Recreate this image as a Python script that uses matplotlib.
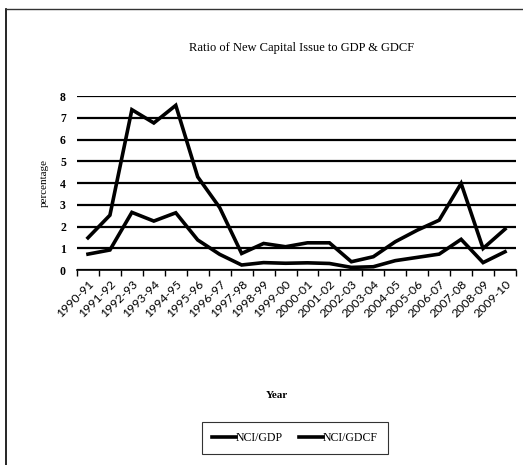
import matplotlib
matplotlib.use("Agg")
import matplotlib.pyplot as plt
from matplotlib.lines import Line2D
import numpy as np

years = ["1990-91", "1991-92", "1992-93", "1993-94", "1994-95", "1995-96", "1996-97",
         "1997-98", "1998-99", "1999-00", "2000-01", "2001-02", "2002-03", "2003-04",
         "2004-05", "2005-06", "2006-07", "2007-08", "2008-09", "2009-10"]
nci_gdp = [0.73, 0.92, 2.65, 2.25, 2.63, 1.38, 0.72, 0.23, 0.34, 0.31, 0.33, 0.30,
           0.12, 0.15, 0.43, 0.58, 0.73, 1.41, 0.34, 0.84]
nci_gdcf = [1.48, 2.52, 7.37, 6.76, 7.57, 4.28, 2.87, 0.76, 1.22, 1.07, 1.25, 1.25,
            0.38, 0.61, 1.30, 1.83, 2.29, 3.98, 0.99, 1.88]
yticks = [0, 1, 2, 3, 4, 5, 6, 7, 8]

W, H = 523, 465
fig = plt.figure(figsize=(W / 100, H / 100), dpi=100)
serif = "Liberation Serif"

# outer frame (left and top edges only visible)
fig.add_artist(Line2D([6 / W, 6 / W], [0, 1 - 9 / H], transform=fig.transFigure,
                      color="black", linewidth=1.2))
fig.add_artist(Line2D([6 / W, 1], [1 - 9 / H, 1 - 9 / H], transform=fig.transFigure,
                      color="#333333", linewidth=1.0))

ax = fig.add_axes([77 / W, 1 - 270 / H, (516 - 77) / W, (270 - 96) / H])
x = np.arange(len(years))
ax.plot(x, nci_gdp, color="black", linewidth=2.6, solid_joinstyle="miter", label="NCI/GDP")
ax.plot(x, nci_gdcf, color="black", linewidth=2.6, solid_joinstyle="miter", label="NCI/GDCF")

ax.set_xlim(-0.5, len(years) - 0.5)
ax.set_ylim(0, 8)
ax.set_yticks(yticks)
ax.set_yticklabels([str(v) for v in yticks], fontfamily=serif, fontsize=8.5, fontweight="bold")
ax.yaxis.grid(True, color="black", linewidth=1.6)
ax.set_axisbelow(True)
ax.tick_params(axis="y", length=0, pad=8)

ax.set_xticks(x)
ax.set_xticklabels(years, rotation=45, ha="right", rotation_mode="anchor",
                   fontfamily="Lato", fontsize=8.8)
ax.set_xticks(np.arange(-0.5, len(years), 1), minor=True)
ax.tick_params(axis="x", which="major", length=0, pad=6)
ax.tick_params(axis="x", which="minor", length=4, width=1, color="black", direction="out")

for s in ["top", "right", "left"]:
    ax.spines[s].set_visible(False)
ax.spines["bottom"].set_linewidth(1.2)

ax.set_ylabel("percentage", fontfamily=serif, fontsize=8, labelpad=8)
fig.text(302 / W, 1 - 48 / H, "Ratio of New Capital Issue to GDP & GDCF", ha="center", va="center",
         fontfamily=serif, fontsize=9)
fig.text(277 / W, 1 - 396 / H, "Year", ha="center", va="center",
         fontfamily=serif, fontsize=8, fontweight="bold")

leg = fig.legend(loc="center", bbox_to_anchor=(295 / W, 1 - 438 / H), ncol=2,
                 prop={"family": serif, "size": 8.5}, frameon=True, fancybox=False,
                 edgecolor="black", handlelength=2.0, handletextpad=0.0, columnspacing=1.4,
                 borderpad=0.85)
leg.get_frame().set_linewidth(0.8)

fig.savefig("out.png", dpi=100)
